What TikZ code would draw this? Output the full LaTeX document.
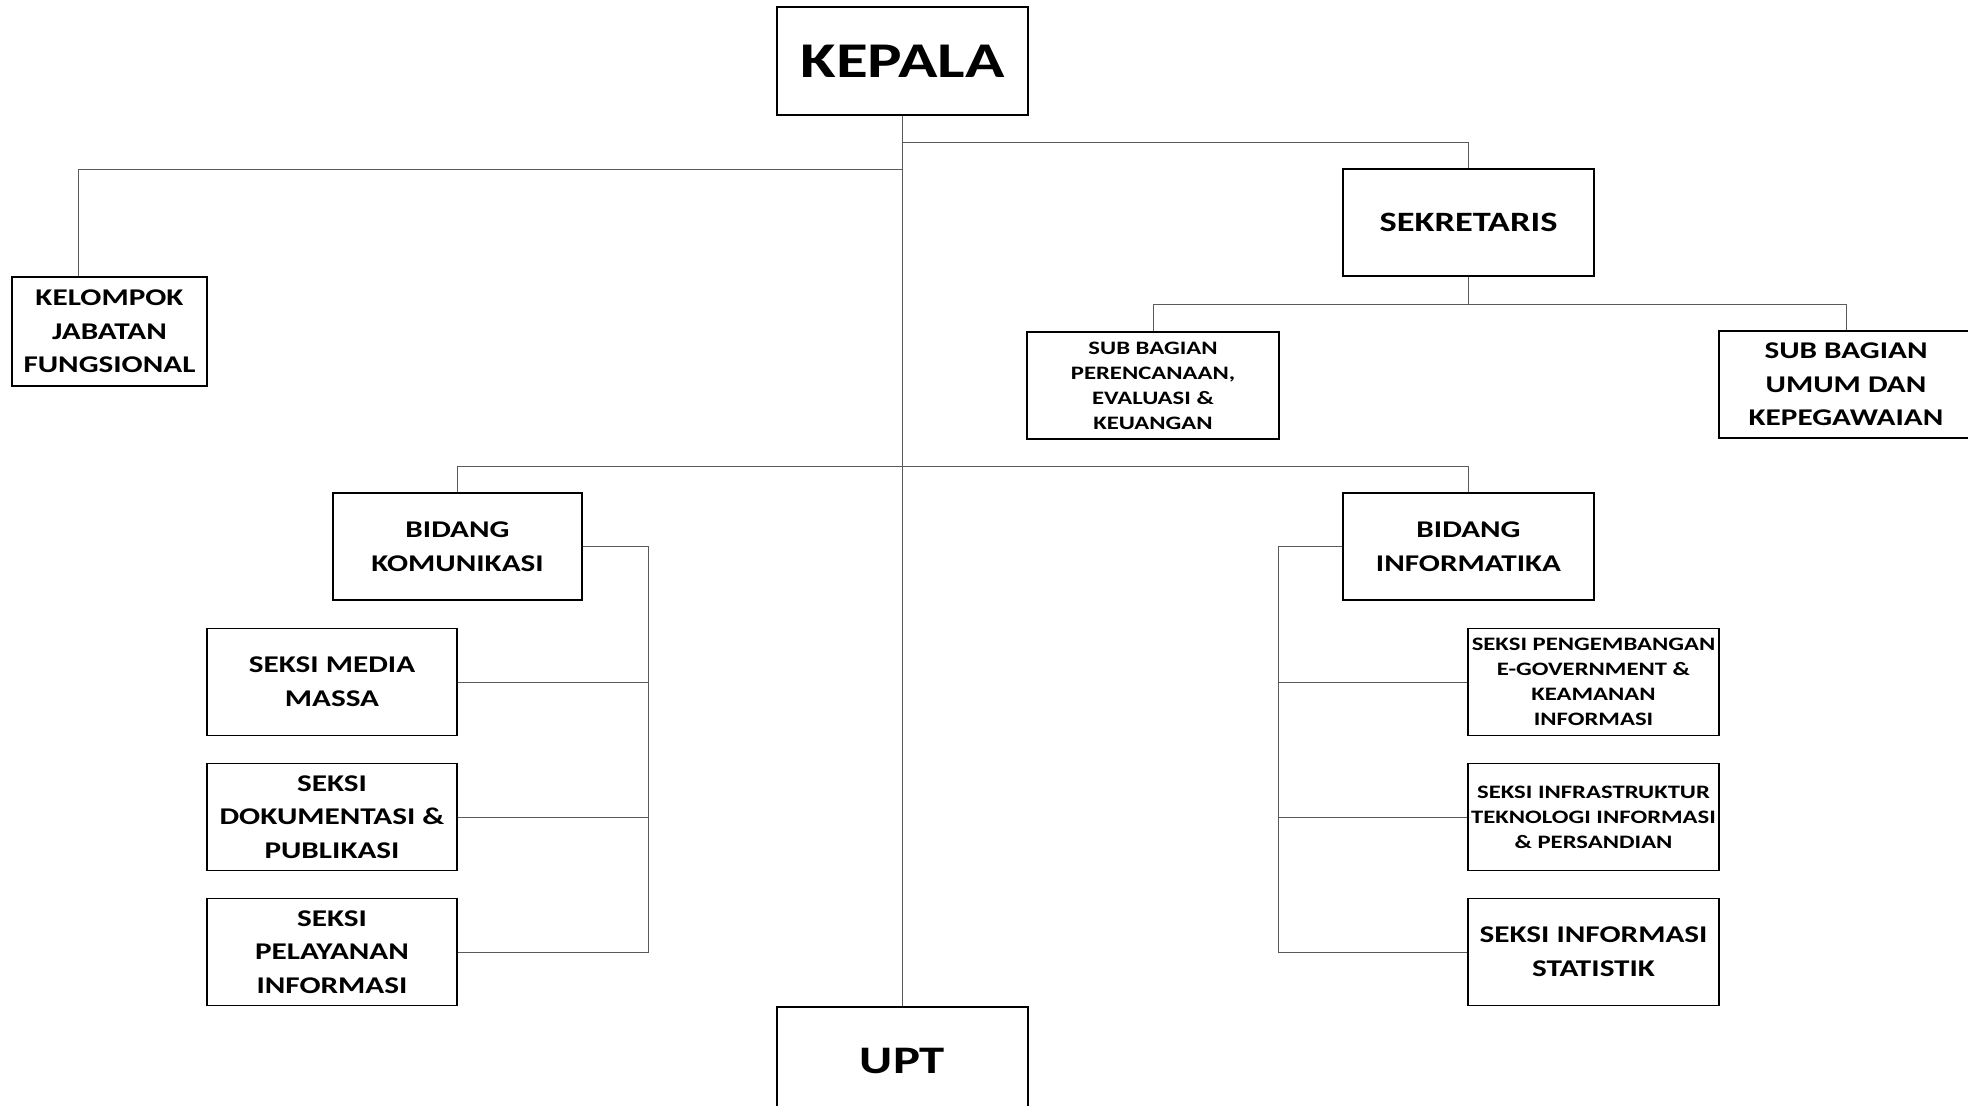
\documentclass[tikz,border=0pt]{standalone}
\usepackage{fontspec}
\setmainfont{Carlito}[FakeStretch=1.3]
\usetikzlibrary{positioning, calc}
\definecolor{linegray}{RGB}{90, 90, 90}

\begin{document}
\begin{tikzpicture}[x=0.5pt, y=-0.5pt]
            \tikzstyle{unit} = [rectangle, draw=black, line width=0.8pt, fill=white, inner sep=0pt, align=center, font=\bfseries]
            \tikzstyle{big} = [unit, font=\bfseries\fontsize{12}{16.8}\selectfont]
            \tikzstyle{small} = [unit, font=\bfseries\fontsize{9.5}{12.5}\selectfont]
            \tikzstyle{link} = [linegray, line width=0.5pt]

            \clip (0,0) rectangle (1968,1106);

            % pimpinan
            \node[unit, font=\bfseries\fontsize{25}{30}\selectfont, minimum width=125.5pt, minimum height=54pt] (kepala) at (902.5,61) {KEPALA};
            \node[unit, font=\bfseries\fontsize{19.5}{24}\selectfont, minimum width=125.5pt, minimum height=54pt] (upt) at (902.5,1061) {UPT};
            \node[big, minimum width=97.5pt, minimum height=54.5pt] (kjf) at (109.5,331.5) {KELOMPOK\\JABATAN\\FUNGSIONAL};
            \node[unit, font=\bfseries\fontsize{14}{17}\selectfont, minimum width=125.5pt, minimum height=53.5pt] (sekr) at (1468.5,222.5) {SEKRETARIS};

            % sub bagian
            \node[small, minimum width=126pt, minimum height=53.5pt] (sbp) at (1153,385.5) {SUB BAGIAN\\PERENCANAAN,\\EVALUASI \&\\KEUANGAN};
            \node[big, minimum width=127pt, minimum height=53.5pt] (sbu) at (1846,384.5) {SUB BAGIAN\\UMUM DAN\\KEPEGAWAIAN};

            % bidang
            \node[big, minimum width=124.5pt, minimum height=53.5pt] (bkom) at (457.5,546.5) {BIDANG\\KOMUNIKASI};
            \node[big, minimum width=125.5pt, minimum height=53.5pt] (binf) at (1468.5,546.5) {BIDANG\\INFORMATIKA};

            % seksi komunikasi
            \node[big, minimum width=125pt, minimum height=53.5pt] (smm) at (332,682) {SEKSI MEDIA\\MASSA};
            \node[big, minimum width=125pt, minimum height=53.5pt] (sdp) at (332,817) {SEKSI\\DOKUMENTASI \&\\PUBLIKASI};
            \node[big, minimum width=125pt, minimum height=53.5pt] (spi) at (332,952) {SEKSI\\PELAYANAN\\INFORMASI};

            % seksi informatika
            \node[small, minimum width=125.5pt, minimum height=53.5pt] (spe) at (1593.5,682) {SEKSI PENGEMBANGAN\\E-GOVERNMENT \&\\KEAMANAN\\INFORMASI};
            \node[small, minimum width=125.5pt, minimum height=53.5pt] (sit) at (1593.5,817) {SEKSI INFRASTRUKTUR\\TEKNOLOGI INFORMASI\\\& PERSANDIAN};
            \node[big, minimum width=125.5pt, minimum height=53.5pt] (sis) at (1593.5,952) {SEKSI INFORMASI\\STATISTIK};

            \draw[link] (kepala.south) -- (upt.north);
            \draw[link] (kepala.south) ++(0,27) -| (sekr.north);
            \draw[link] (kepala.south) ++(0,54) -| ($(kjf.north)+(-31,0)$);
            \draw[link] (sekr.south) ++(0,28) -| (sbp.north);
            \draw[link] (sekr.south) ++(0,28) -| (sbu.north);
            \draw[link] (sekr.south) -- ++(0,28);
            \draw[link] (bkom.north) ++(0,-26) -| (binf.north);
            \draw[link] (bkom.north) -- ++(0,-26);

            \draw[link] (bkom.east) -- ++(66,0) coordinate (kb) |- (spi.east);
            \draw[link] (smm.east) -- (smm.east -| kb);
            \draw[link] (sdp.east) -- (sdp.east -| kb);

            \draw[link] (binf.west) -- ++(-64,0) coordinate (ib) |- (sis.west);
            \draw[link] (spe.west) -- (spe.west -| ib);
            \draw[link] (sit.west) -- (sit.west -| ib);
        \end{tikzpicture}
\end{document}
